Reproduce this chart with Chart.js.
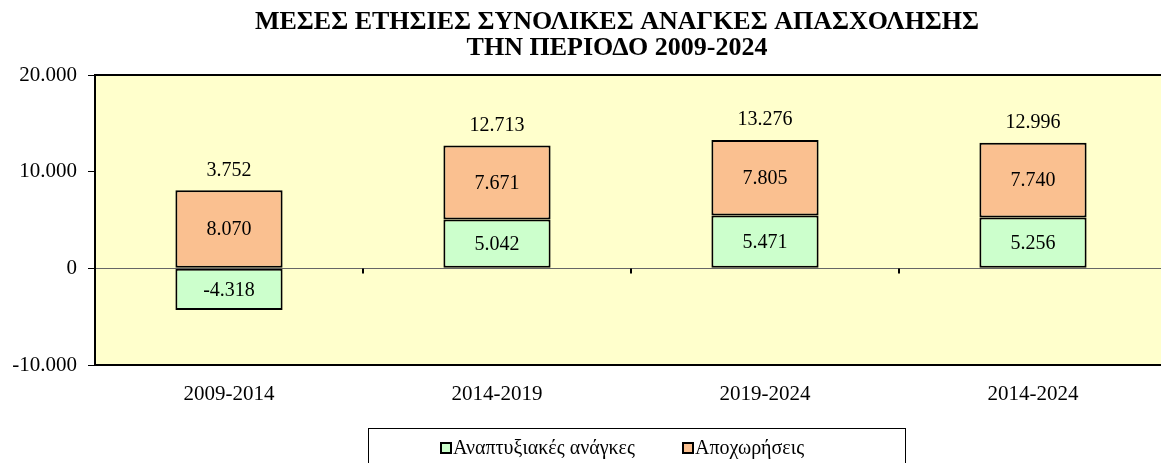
<!DOCTYPE html>
<html>
<head>
<meta charset="utf-8">
<script src="https://cdn.jsdelivr.net/npm/chart.js@4/dist/chart.umd.min.js"></script>
<style>
  html, body { margin: 0; padding: 0; background: #fff; overflow: hidden; }
  #wrap { width: 1175px; height: 463px; }
</style>
</head>
<body>
<div id="wrap"><canvas id="chart" width="1175" height="463"></canvas></div>
<script>
const categories = ["2009-2014", "2014-2019", "2019-2024", "2014-2024"];
const developmentNeeds = [-4318, 5042, 5471, 5256];
const retirements = [8070, 7671, 7805, 7740];
const totals = [3752, 12713, 13276, 12996];
const yTicks = [-10000, 0, 10000, 20000];

const titleLines = ["ΜΕΣΕΣ ΕΤΗΣΙΕΣ ΣΥΝΟΛΙΚΕΣ ΑΝΑΓΚΕΣ ΑΠΑΣΧΟΛΗΣΗΣ", "ΤΗΝ ΠΕΡΙΟΔΟ 2009-2024"];
const seriesNames = ["Αναπτυξιακές ανάγκες", "Αποχωρήσεις"];
const colors = ["#CCFFCC", "#FAC090"];
const serif = "'Liberation Serif', 'DejaVu Serif', serif";

function fmt(v) {
  const s = String(Math.abs(v)).replace(/\B(?=(\d{3})+(?!\d))/g, ".");
  return v < 0 ? "-" + s : s;
}

const decor = {
  id: "decor",
  beforeDatasetsDraw(chart) {
    const { ctx, chartArea: a, scales } = chart;
    ctx.save();
    ctx.fillStyle = "#FFFFCC";
    ctx.fillRect(a.left, a.top, a.right - a.left, a.bottom - a.top);
    // zero line
    const y0 = Math.round(scales.y.getPixelForValue(0)) + 0.5;
    ctx.strokeStyle = "#666";
    ctx.lineWidth = 1;
    ctx.beginPath();
    ctx.moveTo(a.left, y0);
    ctx.lineTo(a.right, y0);
    ctx.stroke();
    // category boundary ticks on zero line
    ctx.strokeStyle = "#000";
    ctx.lineWidth = 2;
    for (let i = 1; i < categories.length; i++) {
      const x = (scales.x.getPixelForValue(i - 1) + scales.x.getPixelForValue(i)) / 2;
      ctx.beginPath();
      ctx.moveTo(x, y0);
      ctx.lineTo(x, y0 + 5);
      ctx.stroke();
    }
    ctx.restore();
  },
  afterDatasetsDraw(chart) {
    const { ctx, chartArea: a, scales } = chart;
    ctx.save();
    ctx.font = "20px " + serif;
    ctx.fillStyle = "#000";
    ctx.textAlign = "center";
    ctx.textBaseline = "middle";
    chart.data.datasets.forEach((ds, di) => {
      chart.getDatasetMeta(di).data.forEach((bar, i) => {
        const mid = (bar.y + bar.base) / 2;
        ctx.fillText(fmt(ds.data[i]), bar.x, mid + 1);
      });
    });
    totals.forEach((t, i) => {
      const top = Math.max(retirements[i], 0) + Math.max(developmentNeeds[i], 0);
      const x = scales.x.getPixelForValue(i);
      ctx.fillText(fmt(t), x, scales.y.getPixelForValue(top) - 20);
    });
    // plot border
    ctx.strokeStyle = "#000";
    ctx.lineWidth = 2;
    ctx.strokeRect(a.left, a.top, a.right - a.left, a.bottom - a.top);
    ctx.restore();
  },
  afterDraw(chart) {
    const { ctx } = chart;
    ctx.save();
    ctx.fillStyle = "#000";
    ctx.textAlign = "center";
    ctx.textBaseline = "middle";
    ctx.font = "bold 26px " + serif;
    ctx.fillText(titleLines[0], 617, 22);
    ctx.fillText(titleLines[1], 617, 48);
    // legend
    ctx.strokeStyle = "#000";
    ctx.lineWidth = 1;
    ctx.strokeRect(368.5, 428.5, 537, 60);
    ctx.font = "20px " + serif;
    ctx.textAlign = "left";
    const items = [[441, seriesNames[0], colors[0]], [683, seriesNames[1], colors[1]]];
    items.forEach(([x, name, c]) => {
      ctx.fillStyle = c;
      ctx.fillRect(x, 443, 10, 10);
      ctx.lineWidth = 2;
      ctx.strokeRect(x, 443, 10, 10);
      ctx.fillStyle = "#000";
      ctx.fillText(name, x + 12, 449);
    });
    ctx.restore();
  }
};

new Chart(document.getElementById("chart"), {
  type: "bar",
  data: {
    labels: categories,
    datasets: [
      { label: seriesNames[0], data: developmentNeeds, backgroundColor: colors[0], borderColor: "#000", borderWidth: 2, borderSkipped: false },
      { label: seriesNames[1], data: retirements, backgroundColor: colors[1], borderColor: "#000", borderWidth: 2, borderSkipped: false }
    ]
  },
  options: {
    responsive: false,
    animation: false,
    layout: { padding: { top: 75, left: 0, right: 8, bottom: 58 } },
    datasets: { bar: { categoryPercentage: 0.4, barPercentage: 1 } },
    plugins: { legend: { display: false }, title: { display: false }, tooltip: { enabled: false } },
    scales: {
      x: {
        stacked: true,
        afterFit: s => { s.height = 40; },
        grid: { display: false },
        border: { display: false },
        ticks: { color: "#000", font: { family: serif, size: 21 }, padding: 9 }
      },
      y: {
        stacked: true,
        min: -10000,
        max: 20000,
        afterFit: s => { s.width = 95; },
        afterBuildTicks: s => { s.ticks = yTicks.map(v => ({ value: v })); },
        grid: { drawOnChartArea: false, color: "#000", tickLength: 7, lineWidth: 1 },
        border: { display: false },
        ticks: { color: "#000", font: { family: serif, size: 21 }, padding: 11, callback: v => fmt(v) }
      }
    }
  },
  plugins: [decor]
});
</script>
</body>
</html>
